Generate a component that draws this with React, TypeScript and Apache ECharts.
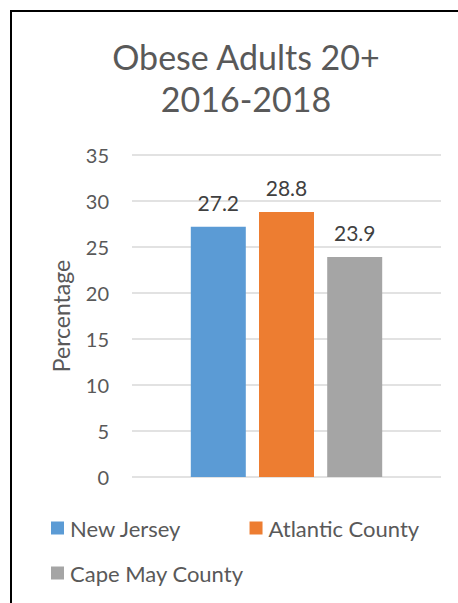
import React, { useEffect, useRef } from "react";
import * as echarts from "echarts";

const titleLines = ["Obese Adults 20+", "2016-2018"];
const seriesNames = ["New Jersey", "Atlantic County", "Cape May County"];
const seriesValues = [27.2, 28.8, 23.9];
const seriesColors = ["#5B9BD5", "#ED7D31", "#A5A5A5"];
const categories = [""];
const yAxisName = "Percentage";

const FONT = "Lato, 'Open Sans', sans-serif";
const TEXT = "#595959";

export default function App() {
  const ref = useRef<HTMLDivElement>(null);
  useEffect(() => {
    if (!ref.current) return;
    const chart = echarts.init(ref.current, undefined, { renderer: "svg" });
    chart.setOption({
      animation: false,
      backgroundColor: "#ffffff",
      textStyle: { fontFamily: FONT },
      title: {
        text: titleLines.join("\n"),
        left: 241,
        top: 30,
        textAlign: "center",
        textStyle: {
          fontFamily: FONT,
          fontSize: 34,
          fontWeight: "normal",
          color: TEXT,
          lineHeight: 42,
        },
      },
      legend: [
        {
          data: [seriesNames[0], seriesNames[1]],
          left: 51,
          top: 517,
          itemWidth: 13,
          itemHeight: 13,
          itemGap: 68,
          icon: "rect",
          textStyle: { fontFamily: FONT, fontSize: 22, color: TEXT, padding: [0, 0, 0, 1] },
          padding: 0,
        },
        {
          data: [seriesNames[2]],
          left: 51,
          top: 562,
          itemWidth: 13,
          itemHeight: 13,
          icon: "rect",
          textStyle: { fontFamily: FONT, fontSize: 22, color: TEXT, padding: [0, 0, 0, 1] },
          padding: 0,
        },
      ],
      grid: { left: 132, right: 17, top: 155, bottom: 126, containLabel: false },
      xAxis: {
        type: "category",
        data: categories,
        axisLine: { show: false },
        axisTick: { show: false },
        axisLabel: { show: false },
      },
      yAxis: {
        type: "value",
        min: 0,
        max: 35,
        interval: 5,
        name: yAxisName,
        nameLocation: "middle",
        nameGap: 60,
        nameTextStyle: { fontFamily: FONT, fontSize: 23, color: TEXT },
        axisLine: { show: false },
        axisTick: { show: false },
        axisLabel: { fontFamily: FONT, fontSize: 20, color: TEXT, margin: 23 },
        splitLine: { lineStyle: { color: "#D9D9D9", width: 1.5 } },
      },
      series: seriesNames.map((name, i) => ({
        name,
        type: "bar",
        data: [seriesValues[i]],
        itemStyle: { color: seriesColors[i] },
        barWidth: 55,
        barGap: "24%",
        label: {
          show: true,
          position: "top",
          distance: 14,
          fontFamily: FONT,
          fontSize: 21,
          color: "#404040",
        },
      })),
      graphic: [
        {
          type: "line",
          shape: { x1: 11, y1: 11, x2: 458, y2: 11 },
          style: { stroke: "#000000", lineWidth: 2 },
          z: 100,
        },
        {
          type: "line",
          shape: { x1: 11, y1: 10, x2: 11, y2: 603 },
          style: { stroke: "#000000", lineWidth: 2 },
          z: 100,
        },
      ],
    });
    return () => chart.dispose();
  }, []);
  return (
    <div
      ref={ref}
      style={{ position: "absolute", left: 0, top: 0, width: 458, height: 603 }}
    />
  );
}
